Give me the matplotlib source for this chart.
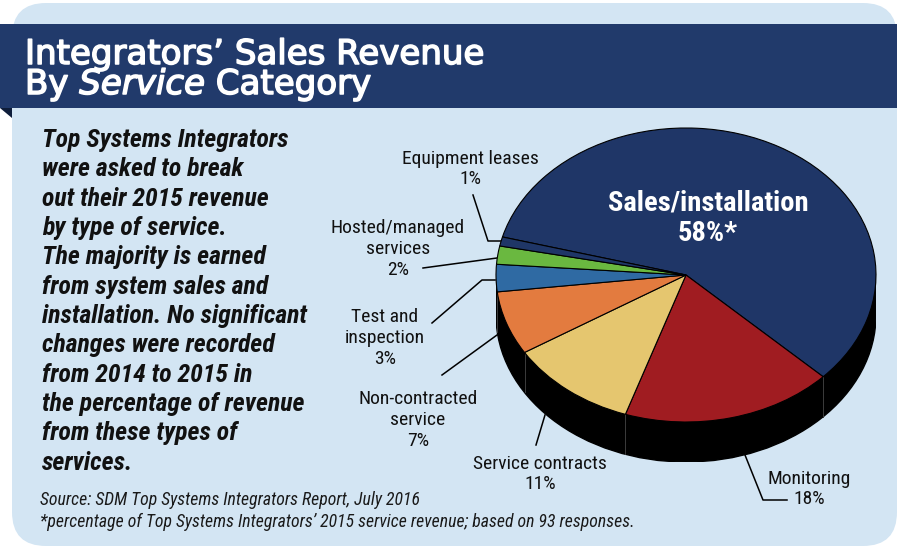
import matplotlib
matplotlib.use("Agg")
import matplotlib.pyplot as plt
import matplotlib.patheffects as pe
from matplotlib import font_manager as fm
import numpy as np
from matplotlib.patches import FancyBboxPatch, Rectangle, Polygon, Ellipse

# data (clockwise from the top-left)
categories = ["Sales/installation", "Monitoring", "Service contracts",
              "Non-contracted\nservice", "Test and\ninspection",
              "Hosted/managed\nservices", "Equipment leases"]
values = [58, 18, 11, 7, 3, 2, 1]
colors = ["#1f3667", "#a01c21", "#e5c66f", "#e37b3f", "#2f6aa3", "#6ab840", "#1f3667"]

title_1 = "Integrators\u2019 Sales Revenue"
intro = ("Top Systems Integrators\nwere asked to break\nout their 2015 revenue\n"
         "by type of service.\nThe majority is earned\nfrom system sales and\n"
         "installation. No significant\nchanges were recorded\nfrom 2014 to 2015 in\n"
         "the percentage of revenue\nfrom these types of\nservices.")
source = "Source: SDM Top Systems Integrators Report, July 2016"
footnote = "*percentage of Top Systems Integrators\u2019 2015 service revenue; based on 93 responses."

# pick a narrow face if one is installed
fonts = fm.fontManager.ttflist
names = {f.name for f in fonts}
stretch = "normal"
if "Liberation Sans Narrow" in names:
    narrow = "Liberation Sans Narrow"
elif "Roboto Condensed" in names:
    narrow = "Roboto Condensed"
elif any(f.name == "DejaVu Sans" and "condensed" in str(f.stretch) for f in fonts):
    narrow, stretch = "DejaVu Sans", "condensed"
else:
    narrow = "Roboto"
NF = dict(family=[narrow, "DejaVu Sans"], fontstretch=stretch)

BG = "#d3e5f3"
NAVY = "#213a6b"

fig = plt.figure(figsize=(9, 5.5), dpi=100)
ax = fig.add_axes([0, 0, 1, 1])
ax.set_xlim(0, 900)
ax.set_ylim(550, 0)
ax.axis("off")

# panel + banner
ax.add_patch(FancyBboxPatch((12, 3), 885, 543, boxstyle="round,pad=0,rounding_size=34",
                            fc=BG, ec="none"))
ax.add_patch(Rectangle((0, 24), 897, 84, fc=NAVY, ec="none"))
ax.add_patch(Polygon([(0, 108), (12, 108), (12, 118)], fc="#0e1d3a", ec="none"))

tfont = dict(color="white", fontsize=24.5, family="DejaVu Sans",
             path_effects=[pe.withStroke(linewidth=1.1, foreground="white")])
ax.text(25, 64, title_1, va="baseline", **tfont)
t1 = ax.text(25, 94, "By ", va="baseline", **tfont)
t2 = ax.annotate("Service", xy=(1, 0), xycoords=t1, va="bottom", ha="left",
                 fontstyle="italic", **tfont)
ax.annotate(" Category", xy=(1, 0), xycoords=t2, va="bottom", ha="left", **tfont)

ax.text(42, 128, intro, va="top", ha="left", fontsize=18.5, fontweight="bold",
        fontstyle="italic", color="#111111", linespacing=1.28, **NF)
ax.text(40, 505, source, va="baseline", fontsize=12.8, fontstyle="italic",
        color="#1a1a1a", **NF)
ax.text(40, 527, footnote, va="baseline", fontsize=12.8, fontstyle="italic",
        color="#1a1a1a", **NF)

# pie: top ellipse centre (686, 275), a=190, b=147, depth 40 px
depth = 40 / 147
pax = fig.add_axes([496 / 900, (550 - 462) / 550, 380 / 900, 334 / 550])
wedges, _ = pax.pie(values, colors=colors, startangle=165, counterclock=False,
                    wedgeprops=dict(edgecolor="black", linewidth=0.8))
pax.set_aspect("auto")
pax.set_xlim(-1, 1)
pax.set_ylim(-1 - depth, 1)
pax.axis("off")

pax.add_patch(Ellipse((0, -depth), 2, 2, fc="black", ec="black", zorder=0.5))
pax.add_patch(Rectangle((-1, -depth), 2, depth, fc="black", ec="none", zorder=0.5))
for w in wedges:
    th = np.deg2rad(w.theta1)
    if np.sin(th) < -0.05:
        pax.plot([np.cos(th)] * 2, [np.sin(th), np.sin(th) - depth],
                 color="#3c3c3c", lw=0.7, zorder=0.6)

fig.text(708 / 900, 1 - 218 / 550, f"{categories[0]}\n{values[0]}%*", ha="center",
         va="center", fontsize=20.5, fontweight="bold", color="white",
         linespacing=1.15, **NF)

# outside labels
label_pos = {1: (809, 489), 2: (540, 474), 3: (418, 420), 4: (385, 338),
             5: (398, 249), 6: (470, 169)}
leaders = {1: [(745, 455), (763, 500), (787, 500)],
           2: [(536, 445), (545, 415)],
           3: [(442, 375), (497, 335)],
           4: [(432, 323), (482, 280), (495, 280)],
           5: [(423, 268), (497, 258)],
           6: [(473, 195), (488, 241), (502, 241)]}
for i, (x, y) in label_pos.items():
    ax.text(x, y, f"{categories[i]}\n{values[i]}%", ha="center", va="center",
            fontsize=14, color="#111111", linespacing=1.2, **NF)
    pts = np.array(leaders[i])
    ax.plot(pts[:, 0], pts[:, 1], color="black", lw=1.1)

fig.savefig("out.png", dpi=100)
